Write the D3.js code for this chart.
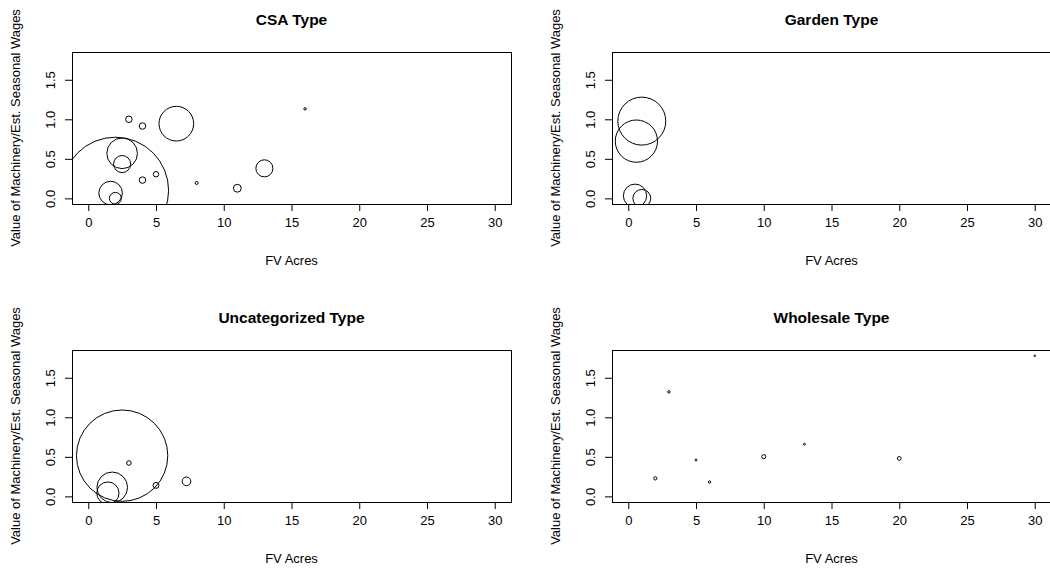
<!DOCTYPE html>
<html lang="en">
  <head>
    <meta charset="UTF-8" />
    <title>FV Acres vs Machinery/Seasonal Wages by Type</title>
    <script src="https://d3js.org/d3.v7.min.js"></script>
    <style>
      body {
        margin: 0;
        background: #fff;
      }
      svg text {
        font-family: 'Liberation Sans', Arial, Helvetica, sans-serif;
        fill: #000;
      }
      .title {
        font-size: 15.5px;
        font-weight: bold;
      }
      .tick-label,
      .axis-title {
        font-size: 13px;
      }
    </style>
  </head>
  <body>
    <div id="chart"></div>

    <script>
      // tick labels shared by all four panels
      const xTicks = [0, 5, 10, 15, 20, 25, 30];
      const yTicks = [0, 0.5, 1.0, 1.5];

      // CSA
      const csaAcres = [2, 3, 4, 6.5, 2.5, 2.5, 4, 5, 8, 11, 13, 16, 1.65, 2];
      const csaRatio = [0.1, 1.0, 0.915, 0.945, 0.57, 0.434, 0.231, 0.305, 0.195, 0.128, 0.38, 1.132, 0.067, 0.0];
      const csaRadius = [3.93, 0.24, 0.24, 1.28, 1.13, 0.63, 0.24, 0.2, 0.11, 0.29, 0.63, 0.09, 0.87, 0.44];

      // Garden
      const gardenAcres = [1, 0.6, 0.5, 1];
      const gardenRatio = [0.977, 0.724, 0.033, 0.0];
      const gardenRadius = [1.77, 1.56, 0.86, 0.66];

      // Uncategorized
      const uncatAcres = [2.5, 3, 1.77, 1.45, 5, 7.25];
      const uncatRatio = [0.515, 0.422, 0.114, 0.042, 0.139, 0.19];
      const uncatRadius = [3.37, 0.17, 1.13, 0.82, 0.22, 0.32];

      // Wholesale
      const wholesaleAcres = [2, 3, 5, 6, 10, 13, 20, 30];
      const wholesaleRatio = [0.228, 1.322, 0.46, 0.181, 0.502, 0.659, 0.48, 1.778];
      const wholesaleRadius = [0.12, 0.09, 0.07, 0.09, 0.15, 0.07, 0.14, 0.03];

      const titles = ['CSA Type', 'Garden Type', 'Uncategorized Type', 'Wholesale Type'];

      const panels = [
        { x: csaAcres, y: csaRatio, r: csaRadius },
        { x: gardenAcres, y: gardenRatio, r: gardenRadius },
        { x: uncatAcres, y: uncatRatio, r: uncatRadius },
        { x: wholesaleAcres, y: wholesaleRatio, r: wholesaleRadius },
      ].map((p, i) => ({
        title: titles[i],
        points: p.x.map((v, j) => ({ acres: v, ratio: p.y[j], rad: p.r[j] })),
      }));

      const svgWidth = 1050;
      const svgHeight = 569;
      const plotW = 439;
      const plotH = 152;
      const lefts = [72, 612];
      const tops = [52, 350];

      const svg = d3
        .select('#chart')
        .append('svg')
        .attr('width', svgWidth)
        .attr('height', svgHeight);

      // R style limits: data range padded 4% each side
      const xLim = [0, 30];
      const yLim = [0, 1.78];
      const pad = (l) => [l[0] - 0.04 * (l[1] - l[0]), l[1] + 0.04 * (l[1] - l[0])];

      const x = d3.scaleLinear().domain(pad(xLim)).range([0, plotW]);
      const y = d3.scaleLinear().domain(pad(yLim)).range([plotH, 0]);

      panels.forEach(function (panel, i) {
        const left = lefts[i % 2];
        const top = tops[Math.floor(i / 2)];

        const g = svg
          .append('g')
          .attr('transform', `translate(${left},${top})`);

        const clipId = 'clip' + i;
        g.append('clipPath')
          .attr('id', clipId)
          .append('rect')
          .attr('width', plotW)
          .attr('height', plotH);

        // bubbles, radius in x-axis units
        g.append('g')
          .attr('clip-path', `url(#${clipId})`)
          .selectAll('circle')
          .data(panel.points)
          .enter()
          .append('circle')
          .attr('cx', (d) => x(d.acres))
          .attr('cy', (d) => y(d.ratio))
          .attr('r', (d) => Math.max(x(d.rad) - x(0), 0.8))
          .attr('fill', 'none')
          .attr('stroke', '#000')
          .attr('stroke-width', 1);

        // plot box
        g.append('rect')
          .attr('x', 0.5)
          .attr('y', 0.5)
          .attr('width', plotW)
          .attr('height', plotH)
          .attr('fill', 'none')
          .attr('stroke', '#000')
          .attr('stroke-width', 1);

        // x axis
        const xAxis = g
          .append('g')
          .attr('transform', `translate(0,${plotH})`)
          .call(d3.axisBottom(x).tickValues(xTicks).tickSize(7).tickPadding(7).tickFormat(d3.format('d')));
        xAxis.select('.domain').remove();
        xAxis.selectAll('text').attr('class', 'tick-label').attr('font-size', null).attr('font-family', null);

        // y axis, labels turned like R
        const yAxis = g
          .append('g')
          .call(d3.axisLeft(y).tickValues(yTicks).tickSize(7).tickFormat(d3.format('.1f')));
        yAxis.select('.domain').remove();
        yAxis
          .selectAll('text')
          .attr('class', 'tick-label')
          .attr('font-size', null)
          .attr('font-family', null)
          .attr('x', null)
          .attr('dy', null)
          .attr('transform', 'translate(-22,0) rotate(-90)')
          .attr('text-anchor', 'middle')
          .attr('dy', '0.35em');

        // titles
        g.append('text')
          .attr('class', 'title')
          .attr('x', plotW / 2)
          .attr('y', -32)
          .attr('dy', '0.35em')
          .attr('text-anchor', 'middle')
          .text(panel.title);

        g.append('text')
          .attr('class', 'axis-title')
          .attr('x', plotW / 2)
          .attr('y', plotH + 56)
          .attr('dy', '0.35em')
          .attr('text-anchor', 'middle')
          .text('FV Acres');

        g.append('text')
          .attr('class', 'axis-title')
          .attr('transform', `translate(-57,${plotH / 2}) rotate(-90)`)
          .attr('dy', '0.35em')
          .attr('text-anchor', 'middle')
          .text('Value of Machinery/Est. Seasonal Wages');
      });
    </script>
  </body>
</html>
